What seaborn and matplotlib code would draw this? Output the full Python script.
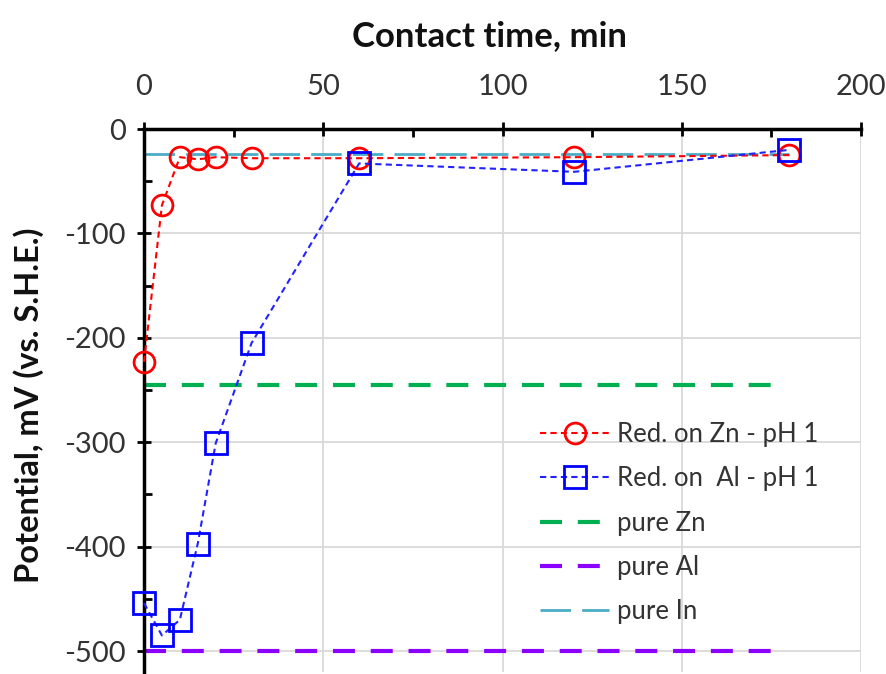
import numpy as np
import pandas as pd
import matplotlib
matplotlib.use("Agg")
import matplotlib.pyplot as plt
import seaborn as sns
from matplotlib.ticker import MultipleLocator

# Data
time_zn = [0, 5, 10, 15, 20, 30, 60, 120, 180]
pot_zn = [-223, -73, -27, -29, -27, -28, -28, -27, -25]
time_al = [0, 5, 10, 15, 20, 30, 60, 120, 180]
pot_al = [-454, -485, -470, -397, -301, -205, -33, -41, -20]
pure_zn_x = [0, 175]
pure_zn_y = [-245, -245]
pure_al_x = [0, 175]
pure_al_y = [-500, -500]
pure_in_x = [0, 180]
pure_in_y = [-24, -24]
x_ticks = [0, 50, 100, 150, 200]
y_ticks = [0, -100, -200, -300, -400, -500]

sns.set_theme(style="white")
plt.rcParams['font.family'] = ['Lato', 'DejaVu Sans']
plt.rcParams['axes.unicode_minus'] = False

fig = plt.figure(figsize=(8.86, 6.74), dpi=100)
ax = fig.add_axes([144/886, 1-672/674, (861-144)/886, (672-129)/674])

grid_c = "#d9d9d9"
for xv in x_ticks[1:]:
    ax.axvline(xv, color=grid_c, lw=1.3, zorder=0)
for yv in y_ticks[1:]:
    ax.axhline(yv, color=grid_c, lw=1.3, zorder=0)

df_zn = pd.DataFrame({"t": time_zn, "p": pot_zn})
df_al = pd.DataFrame({"t": time_al, "p": pot_al})

sns.lineplot(x=pure_in_x, y=pure_in_y, ax=ax, color="#4bacc6", lw=2.0,
             label="pure In", zorder=2)
ax.lines[-1].set_dashes([11, 4])
sns.lineplot(data=df_zn, x="t", y="p", ax=ax, color="#ff0000", lw=1.5,
             marker="o", markersize=15, markerfacecolor="none",
             markeredgecolor="#ff0000", markeredgewidth=2,
             label="Red. on Zn - pH 1", zorder=3, clip_on=False)
ax.lines[-1].set_dashes([3, 2])
sns.lineplot(data=df_al, x="t", y="p", ax=ax, color="#2222ff", lw=1.5,
             marker="s", markersize=16, markerfacecolor="none",
             markeredgecolor="#0000ff", markeredgewidth=2,
             label="Red. on  Al - pH 1", zorder=4, clip_on=False)
ax.lines[-1].set_dashes([3, 2])
sns.lineplot(x=pure_zn_x, y=pure_zn_y, ax=ax, color="#00b050", lw=3,
             label="pure Zn", zorder=2)
ax.lines[-1].set_dashes([5.28, 3.79])
sns.lineplot(x=pure_al_x, y=pure_al_y, ax=ax, color="#8b00ff", lw=3,
             label="pure Al", zorder=2)
ax.lines[-1].set_dashes([5.28, 3.79])

ax.set_xlim(0, 200)
ax.set_ylim(-520, 0)
ax.xaxis.tick_top()
ax.xaxis.set_label_position("top")
ax.set_xticks(x_ticks)
ax.set_yticks(y_ticks)
ax.xaxis.set_minor_locator(MultipleLocator(25))
ax.yaxis.set_minor_locator(MultipleLocator(50))
ax.tick_params(axis="both", which="major", direction="inout", length=10, width=2,
               labelsize=21, color="black", labelcolor="#333333")
ax.tick_params(axis="both", which="minor", direction="in", length=6, width=2, color="black")
ax.tick_params(axis="x", which="both", top=True, bottom=False)
ax.tick_params(axis="y", which="both", left=True, right=False)
ax.tick_params(axis="x", which="major", pad=16)
ax.tick_params(axis="y", which="major", pad=8)

for s in ["right", "bottom"]:
    ax.spines[s].set_visible(False)
for s in ["top", "left"]:
    ax.spines[s].set_color("black")
    ax.spines[s].set_linewidth(2.5)

ax.set_xlabel("Contact time, min", fontsize=25, fontweight="bold", color="#111111")
ax.set_ylabel("Potential, mV (vs. S.H.E.)", fontsize=23.5, fontweight="bold", color="#111111")
ax.xaxis.set_label_coords((490-144)/717, 1 + (129-46)/543)
ax.yaxis.set_label_coords((44-144)/717, 0.5 - 5/543)

handles, labels = ax.get_legend_handles_labels()
order = ["Red. on Zn - pH 1", "Red. on  Al - pH 1", "pure Zn", "pure Al", "pure In"]
hmap = dict(zip(labels, handles))
leg = ax.legend([hmap[o] for o in order], order, loc="upper left",
                bbox_to_anchor=((540-144)/717, (672-422)/543),
                frameon=False, fontsize=18.5, handlelength=2.7, labelspacing=0.75,
                handletextpad=0.3, borderpad=0, borderaxespad=0)
for t in leg.get_texts():
    t.set_color("#333333")

fig.savefig("out.png", dpi=100)
